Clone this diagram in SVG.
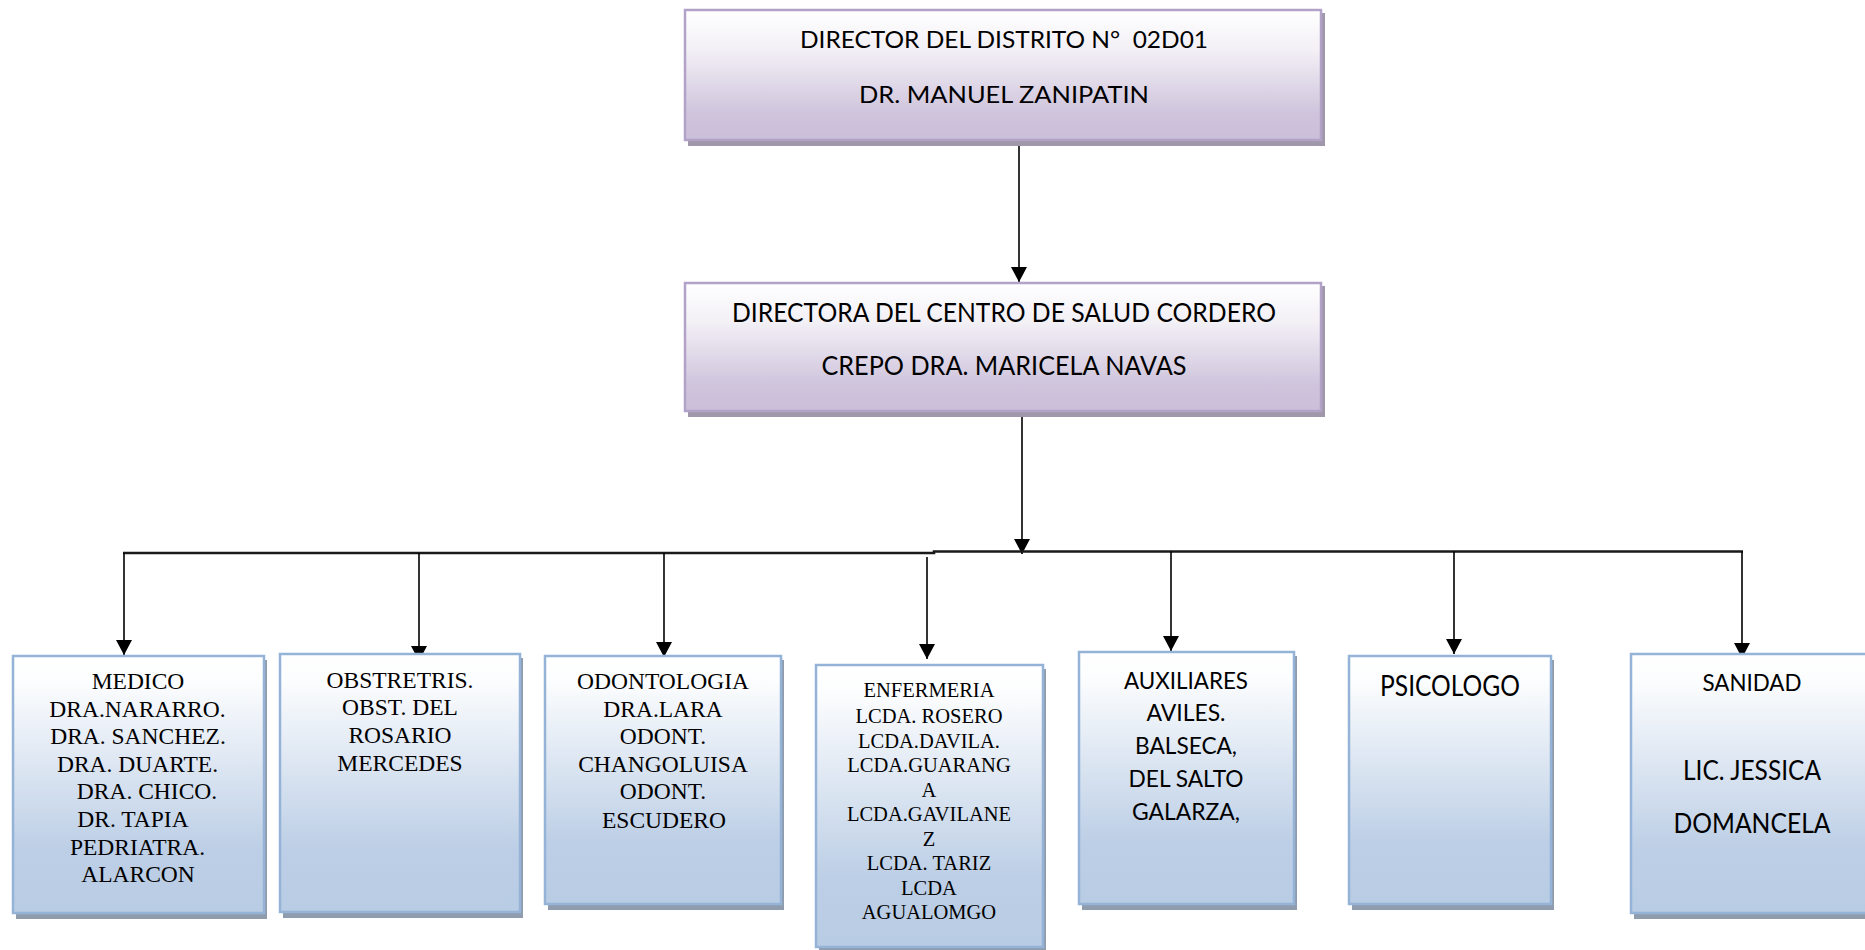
<svg xmlns="http://www.w3.org/2000/svg" width="1865" height="950" viewBox="0 0 1865 950">
<style>
.pbox{fill:url(#gp);stroke:#b3a2c7;stroke-width:2.5}
.pshadow{fill:#a097aa}
.bbox{fill:url(#gb);stroke:#95b3d7;stroke-width:2.5}
.bshadow{fill:#8f9cae}
.sans{font-family:Lato,"Open Sans","Liberation Sans",sans-serif;fill:#000;text-anchor:middle}
.serif{font-family:"Liberation Serif","Times New Roman",serif;fill:#000;text-anchor:middle}
.conn{stroke:#000;stroke-width:1.6;fill:none}
.bus{stroke:#1a1a1a;stroke-width:2.6;fill:none}
</style>
<defs>
<linearGradient id="gp" x1="0" y1="0" x2="0" y2="1">
<stop offset="0" stop-color="#ffffff"/>
<stop offset="0.3" stop-color="#f3f0f6"/>
<stop offset="0.8" stop-color="#cfc4dc"/>
<stop offset="1" stop-color="#cbbfd9"/>
</linearGradient>
<linearGradient id="gb" x1="0" y1="0" x2="0" y2="1">
<stop offset="0" stop-color="#ffffff"/>
<stop offset="0.1" stop-color="#fcfdfe"/>
<stop offset="0.75" stop-color="#bdcfe6"/>
<stop offset="1" stop-color="#b8cce4"/>
</linearGradient>
<marker id="ah" markerUnits="userSpaceOnUse" markerWidth="16" markerHeight="16" refX="15" refY="8" orient="auto">
<path d="M0,0 L15,8 L0,16 z" fill="#000"/>
</marker>
</defs>
<rect width="1865" height="950" fill="#ffffff"/>

<g id="connectors">
<line class="conn" x1="1019" y1="141" x2="1019" y2="282" marker-end="url(#ah)"/>
<line class="conn" x1="1022" y1="412" x2="1022" y2="554" marker-end="url(#ah)"/>
<polyline class="bus" points="123,553 934,553 934,551.5 1743,551.5"/>
<line class="conn" x1="124" y1="553" x2="124" y2="655" marker-end="url(#ah)"/>
<line class="conn" x1="419" y1="553" x2="419" y2="661" marker-end="url(#ah)"/>
<line class="conn" x1="664" y1="553" x2="664" y2="657" marker-end="url(#ah)"/>
<line class="conn" x1="927" y1="557" x2="927" y2="659" marker-end="url(#ah)"/>
<line class="conn" x1="1171" y1="551.5" x2="1171" y2="651" marker-end="url(#ah)"/>
<line class="conn" x1="1454" y1="551.5" x2="1454" y2="654" marker-end="url(#ah)"/>
<line class="conn" x1="1742" y1="551.5" x2="1742" y2="658" marker-end="url(#ah)"/>
</g>

<g id="director-distrito">
<rect class="pshadow" x="688" y="13" width="637" height="133"/>
<rect class="pbox" x="685" y="10" width="636" height="130"/>
<text class="sans" x="1004" y="48" font-size="23.5" textLength="408" lengthAdjust="spacingAndGlyphs">DIRECTOR DEL DISTRITO N°&#160; 02D01</text>
<text class="sans" x="1004" y="103" font-size="23.5" textLength="290" lengthAdjust="spacingAndGlyphs">DR. MANUEL ZANIPATIN</text>
</g>

<g id="directora-centro">
<rect class="pshadow" x="688" y="286" width="637" height="131"/>
<rect class="pbox" x="685" y="283" width="636" height="128"/>
<text class="sans" x="1004" y="322" font-size="26.5" textLength="544" lengthAdjust="spacingAndGlyphs">DIRECTORA DEL CENTRO DE SALUD CORDERO</text>
<text class="sans" x="1004" y="375" font-size="26.5" textLength="365" lengthAdjust="spacingAndGlyphs">CREPO DRA. MARICELA NAVAS</text>
</g>

<g id="medico">
<rect class="bshadow" x="16" y="660" width="251" height="259"/>
<rect class="bbox" x="13" y="656" width="251" height="257"/>
<g class="serif" font-size="23.5">
<text x="138" y="689">MEDICO</text>
<text x="137.5" y="717">DRA.NARARRO.</text>
<text x="138" y="744">DRA. SANCHEZ.</text>
<text x="137.5" y="772">DRA. DUARTE.</text>
<text x="147" y="799">DRA. CHICO.</text>
<text x="133" y="827">DR. TAPIA</text>
<text x="137.5" y="855">PEDRIATRA.</text>
<text x="138" y="882">ALARCON</text>
</g>
</g>

<g id="obstetricia">
<rect class="bshadow" x="283" y="658" width="240" height="260"/>
<rect class="bbox" x="280" y="654" width="240" height="258"/>
<g class="serif" font-size="23.5">
<text x="400" y="688">OBSTRETRIS.</text>
<text x="400" y="715">OBST. DEL</text>
<text x="400" y="743">ROSARIO</text>
<text x="400" y="771">MERCEDES</text>
</g>
</g>

<g id="odontologia">
<rect class="bshadow" x="548" y="660" width="236" height="250"/>
<rect class="bbox" x="545" y="656" width="236" height="248"/>
<g class="serif" font-size="23.5">
<text x="663" y="689">ODONTOLOGIA</text>
<text x="663" y="717">DRA.LARA</text>
<text x="663" y="744">ODONT.</text>
<text x="663" y="772">CHANGOLUISA</text>
<text x="663" y="799">ODONT.</text>
<text x="664" y="828">ESCUDERO</text>
</g>
</g>

<g id="enfermeria">
<rect class="bshadow" x="819" y="669" width="227" height="284"/>
<rect class="bbox" x="816" y="665" width="227" height="282"/>
<g class="serif" font-size="20.5">
<text x="929" y="697">ENFERMERIA</text>
<text x="929" y="723">LCDA. ROSERO</text>
<text x="929" y="748">LCDA.DAVILA.</text>
<text x="929" y="772">LCDA.GUARANG</text>
<text x="929" y="797">A</text>
<text x="929" y="821">LCDA.GAVILANE</text>
<text x="929" y="846">Z</text>
<text x="929" y="870">LCDA. TARIZ</text>
<text x="929" y="895">LCDA</text>
<text x="929" y="919">AGUALOMGO</text>
</g>
</g>

<g id="auxiliares">
<rect class="bshadow" x="1082" y="656" width="215" height="254"/>
<rect class="bbox" x="1079" y="652" width="215" height="252"/>
<g class="sans" font-size="23.5">
<text x="1186" y="689" textLength="124" lengthAdjust="spacingAndGlyphs">AUXILIARES</text>
<text x="1186" y="721" textLength="79" lengthAdjust="spacingAndGlyphs">AVILES.</text>
<text x="1186" y="754" textLength="102" lengthAdjust="spacingAndGlyphs">BALSECA,</text>
<text x="1186" y="787" textLength="115" lengthAdjust="spacingAndGlyphs">DEL SALTO</text>
<text x="1186" y="820" textLength="108" lengthAdjust="spacingAndGlyphs">GALARZA,</text>
</g>
</g>

<g id="psicologo">
<rect class="bshadow" x="1352" y="660" width="202" height="250"/>
<rect class="bbox" x="1349" y="656" width="202" height="248"/>
<text class="sans" x="1450" y="696" font-size="28" textLength="140" lengthAdjust="spacingAndGlyphs">PSICOLOGO</text>
</g>

<g id="sanidad">
<rect class="bshadow" x="1634" y="658" width="250" height="261"/>
<rect class="bbox" x="1631" y="654" width="250" height="259"/>
<text class="sans" x="1752" y="691" font-size="23.5" textLength="99" lengthAdjust="spacingAndGlyphs">SANIDAD</text>
<text class="sans" x="1752" y="780" font-size="27" textLength="138" lengthAdjust="spacingAndGlyphs">LIC. JESSICA</text>
<text class="sans" x="1752" y="833" font-size="27" textLength="157" lengthAdjust="spacingAndGlyphs">DOMANCELA</text>
</g>
</svg>
